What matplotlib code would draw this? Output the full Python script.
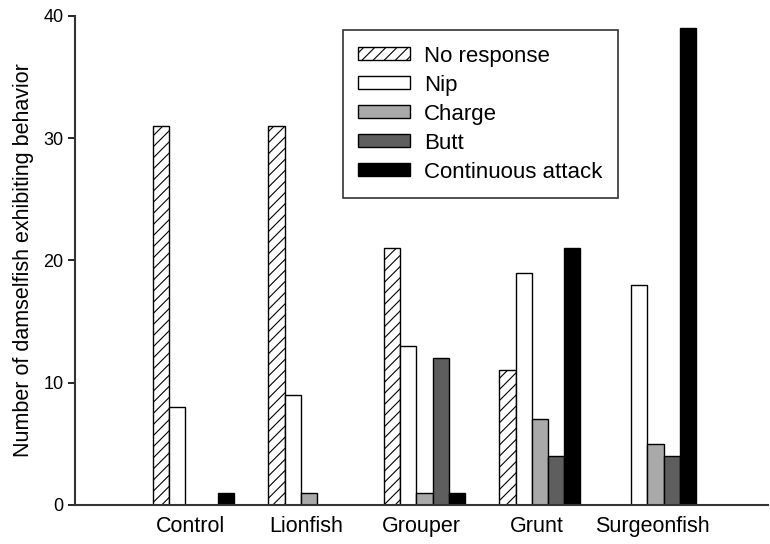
import numpy as np
import matplotlib.pyplot as plt

plt.rcParams['font.family'] = ['Liberation Sans', 'DejaVu Sans']
plt.rcParams['hatch.linewidth'] = 0.8

# data
groups = ['Control', 'Lionfish', 'Grouper', 'Grunt', 'Surgeonfish']
behaviors = ['No response', 'Nip', 'Charge', 'Butt', 'Continuous attack']
no_response = [31, 31, 21, 11, 0]
nip = [8, 9, 13, 19, 18]
charge = [0, 1, 1, 7, 5]
butt = [0, 0, 12, 4, 4]
continuous = [1, 0, 1, 21, 39]

series = [no_response, nip, charge, butt, continuous]
fills = ['white', 'white', '#a9a9a9', '#5e5e5e', 'black']
hatches = ['///', None, None, None, None]

fig = plt.figure(figsize=(7.7, 5.44), dpi=100)
ax = fig.add_axes([0.097, 0.072, 0.90, 0.899])

x = np.arange(1, len(groups) + 1)
w = 0.14
for i, (vals, fc, h) in enumerate(zip(series, fills, hatches)):
    ax.bar(x + (i - 1.8) * w, vals, width=w, color=fc, edgecolor='black',
           linewidth=1.0, hatch=h, label=behaviors[i])

ax.set_xlim(0, 6)
ax.set_ylim(0, 40)
ax.set_xticks(x)
ax.set_xticklabels(groups, fontsize=15.5)
ax.tick_params(axis='x', length=0, pad=8)
ax.set_yticks([0, 10, 20, 30, 40])
ax.tick_params(axis='y', labelsize=13, length=5, width=1.2, pad=3)
ax.set_ylabel('Number of damselfish exhibiting behavior', fontsize=15.5, labelpad=7)

for s in ['top', 'right']:
    ax.spines[s].set_visible(False)
for s in ['left', 'bottom']:
    ax.spines[s].set_linewidth(1.5)
    ax.spines[s].set_color('#333333')

leg = ax.legend(loc='upper left', bbox_to_anchor=(0.387, 0.971), fontsize=16,
                frameon=True, fancybox=False, edgecolor='black',
                handlelength=2.3, handleheight=0.55, labelspacing=0.36,
                borderpad=0.7, handletextpad=0.65, borderaxespad=0)
leg.get_frame().set_linewidth(1.2)

fig.savefig('out.png', dpi=100)
